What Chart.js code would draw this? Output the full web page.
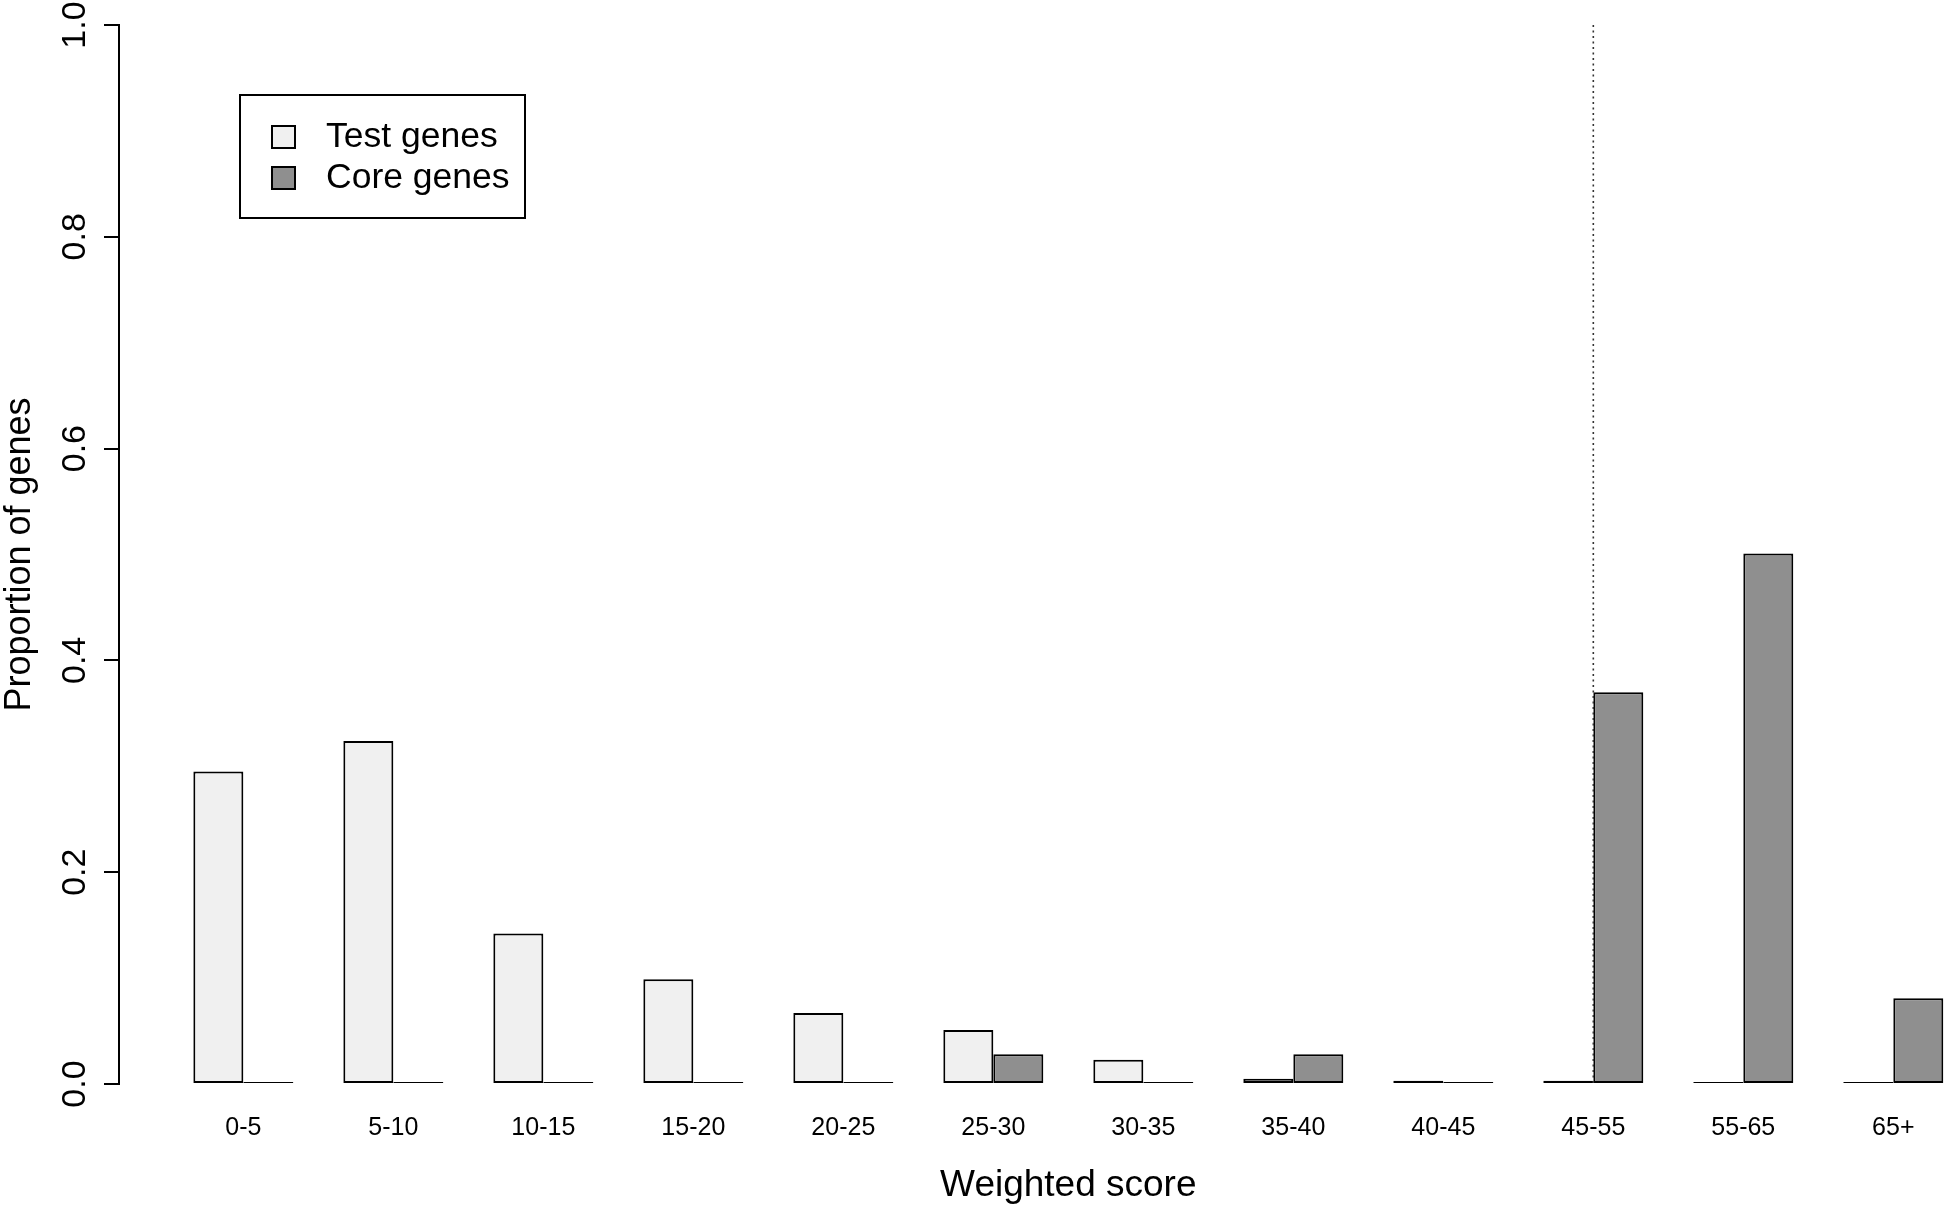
<!DOCTYPE html>
<html>
<head>
<meta charset="utf-8">
<script src="https://cdn.jsdelivr.net/npm/chart.js@4.4.0/dist/chart.umd.min.js"></script>
<style>
html,body{margin:0;padding:0;background:#fff;overflow:hidden}
#wrap{width:1950px;height:1211px;position:relative;background:#fff}
</style>
</head>
<body>
<div id="wrap"><canvas id="c" width="1950" height="1211"></canvas></div>
<script>
// ---- data ----
const categories = ['0-5','5-10','10-15','15-20','20-25','25-30','30-35','35-40','40-45','45-55','55-65','65+'];
const testGenes = [0.295,0.324,0.142,0.099,0.067,0.051,0.023,0.005,0.003,0.003,0.001,0];
const coreGenes = [0,0,0,0,0,0.028,0,0.028,0,0.370,0.501,0.081];
const seriesLabels = ['Test genes','Core genes'];
const yTicks = [0,0.2,0.4,0.6,0.8,1.0];
const yTickLabels = ['0.0','0.2','0.4','0.6','0.8','1.0'];
const thresholdCategory = '45-55';
const xTitle = 'Weighted score';
const yTitle = 'Proportion of genes';

const FONT = "'Liberation Sans', Arial, sans-serif";

const overlay = {
  id: 'overlay',
  afterDatasetsDraw(chart) {
    const ctx = chart.ctx, xs = chart.scales.x, ys = chart.scales.y;
    // dotted threshold line
    const xi = xs.getPixelForValue(categories.indexOf(thresholdCategory));
    ctx.save();
    ctx.strokeStyle = '#333';
    ctx.lineWidth = 1.6;
    ctx.setLineDash([2, 3.5]);
    ctx.beginPath();
    ctx.moveTo(xi, ys.getPixelForValue(1));
    ctx.lineTo(xi, ys.getPixelForValue(0));
    ctx.stroke();
    ctx.restore();
  },
  afterDraw(chart) {
    const ctx = chart.ctx, xs = chart.scales.x, ys = chart.scales.y;
    ctx.save();
    ctx.fillStyle = '#000';
    // x category labels
    ctx.font = '25px ' + FONT;
    ctx.textAlign = 'center';
    ctx.textBaseline = 'middle';
    categories.forEach((c, i) => ctx.fillText(c, xs.getPixelForValue(i), 1128));
    // x title
    ctx.font = '37px ' + FONT;
    ctx.fillText(xTitle, xs.getPixelForValue((categories.length - 1) / 2), 1186);
    // y tick labels (rotated)
    ctx.font = '34px ' + FONT;
    yTicks.forEach((v, i) => {
      ctx.save();
      ctx.translate(76, ys.getPixelForValue(v));
      ctx.rotate(-Math.PI / 2);
      ctx.fillText(yTickLabels[i], 0, 0);
      ctx.restore();
    });
    // y title
    ctx.font = '36px ' + FONT;
    ctx.save();
    ctx.translate(20, ys.getPixelForValue(0.5));
    ctx.rotate(-Math.PI / 2);
    ctx.fillText(yTitle, 0, 0);
    ctx.restore();
    // legend
    ctx.lineWidth = 2;
    ctx.strokeStyle = '#000';
    ctx.strokeRect(240, 95, 285, 123);
    const ds = chart.data.datasets;
    const rowsY = [137, 178];
    ctx.textAlign = 'left';
    ctx.font = '35.5px ' + FONT;
    ds.forEach((d, i) => {
      ctx.fillStyle = d.backgroundColor;
      ctx.fillRect(272, rowsY[i] - 11, 23, 22);
      ctx.strokeRect(272, rowsY[i] - 11, 23, 22);
      ctx.fillStyle = '#000';
      ctx.fillText(d.label, 326, rowsY[i]);
    });
    ctx.restore();
  }
};

const toPoints = arr => arr.map((v, i) => ({ x: i, y: v }));

new Chart(document.getElementById('c'), {
  type: 'bar',
  data: {
    datasets: [
      {
        label: seriesLabels[0],
        data: toPoints(testGenes),
        backgroundColor: '#f0f0f0',
        borderColor: '#000',
        borderWidth: 2,
        borderSkipped: false,
        minBarLength: 2,
        categoryPercentage: 2 / 3,
        barPercentage: 1
      },
      {
        label: seriesLabels[1],
        data: toPoints(coreGenes),
        backgroundColor: '#8f8f8f',
        borderColor: '#000',
        borderWidth: 2,
        borderSkipped: false,
        minBarLength: 2,
        categoryPercentage: 2 / 3,
        barPercentage: 1
      }
    ]
  },
  options: {
    responsive: false,
    animation: false,
    devicePixelRatio: 1,
    layout: { padding: { top: 25, left: 0, right: 0, bottom: 0 } },
    plugins: { legend: { display: false }, tooltip: { enabled: false } },
    scales: {
      x: {
        type: 'linear',
        min: -0.829,
        max: 11.378,
        offset: false,
        grid: { display: false, drawTicks: false },
        border: { display: false },
        ticks: { display: false },
        afterBuildTicks: s => { s.ticks = categories.map((_, i) => ({ value: i })); },
        afterFit: s => { s.height = 127; }
      },
      y: {
        min: 0,
        max: 1,
        grid: { drawOnChartArea: false, drawTicks: true, tickLength: 15, color: '#000', lineWidth: 2 },
        border: { display: true, color: '#000', width: 2 },
        ticks: { display: false },
        afterBuildTicks: s => { s.ticks = yTicks.map(v => ({ value: v })); },
        afterFit: s => { s.width = 119; }
      }
    }
  },
  plugins: [overlay]
});
</script>
</body>
</html>
